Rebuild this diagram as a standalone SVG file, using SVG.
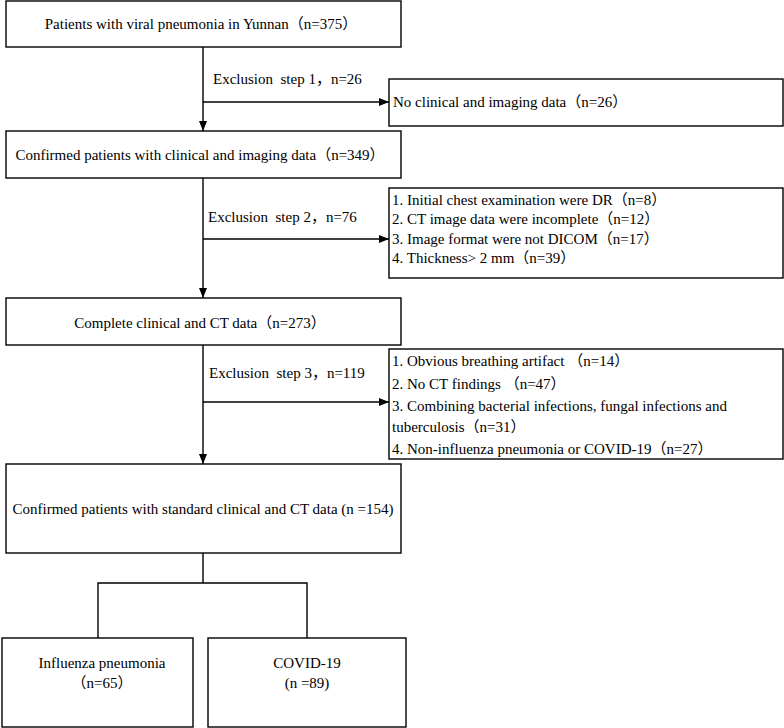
<svg xmlns="http://www.w3.org/2000/svg" width="784" height="728" viewBox="0 0 784 728">
<defs>
<marker id="ah" markerWidth="10" markerHeight="8" refX="10" refY="4" orient="auto" markerUnits="userSpaceOnUse">
<path d="M0,0 L10,4 L0,8 Z" fill="#000"/>
</marker>
<style>
rect{fill:#fff;stroke:#000;stroke-width:1.4}
.c line,.c polyline{stroke:#000;stroke-width:1.4;fill:none}
text{font-family:"Liberation Serif","Times New Roman","Noto Sans CJK SC",serif;font-size:15px;fill:#000;white-space:pre}
.m{text-anchor:middle}
</style>
</defs>
<rect width="784" height="728" style="fill:#fff;stroke:none"/>
<g id="n1"><rect x="6" y="1" width="395" height="46"/><text class="m" x="201" y="29">Patients with viral pneumonia in Yunnan（n=375）</text></g>
<g id="n2"><rect x="389" y="79" width="394" height="47"/><text x="393" y="107">No clinical and imaging data（n=26）</text></g>
<g id="n3"><rect x="6" y="131" width="395" height="47"/><text class="m" x="200" y="160">Confirmed patients with clinical and imaging data（n=349）</text></g>
<g id="n4"><rect x="389" y="188" width="394" height="90"/>
<text x="392" y="205">1. Initial chest examination were DR（n=8）</text>
<text x="392" y="224">2. CT image data were incomplete（n=12）</text>
<text x="392" y="244">3. Image format were not DICOM（n=17）</text>
<text x="392" y="263">4. Thickness&gt; 2 mm（n=39）</text></g>
<g id="n5"><rect x="6" y="298" width="395" height="47"/><text class="m" x="200" y="328">Complete clinical and CT data（n=273）</text></g>
<g id="n6"><rect x="389" y="349" width="394" height="110"/>
<text x="392" y="366">1. Obvious breathing artifact （n=14）</text>
<text x="392" y="389">2. No CT findings （n=47）</text>
<text x="392" y="411">3. Combining bacterial infections, fungal infections and</text>
<text x="392" y="432">tuberculosis（n=31）</text>
<text x="392" y="454">4. Non-influenza pneumonia or COVID-19（n=27）</text></g>
<g id="n7"><rect x="6" y="464" width="395" height="89"/><text class="m" x="203" y="514">Confirmed patients with standard clinical and CT data (n =154)</text></g>
<g id="n8"><rect x="2" y="638" width="191" height="89"/><text class="m" x="102" y="668">Influenza pneumonia</text><text class="m" x="102" y="688">（n=65）</text></g>
<g id="n9"><rect x="208" y="638" width="198" height="89"/><text class="m" x="307" y="668">COVID-19</text><text class="m" x="307" y="688">(n =89)</text></g>
<g id="labels">
<text x="213" y="84">Exclusion  step 1，n=26</text>
<text x="208" y="222">Exclusion  step 2，n=76</text>
<text x="209" y="378">Exclusion  step 3，n=119</text>
</g>
<g class="c" id="connectors">
<line x1="203" y1="47" x2="203" y2="131" marker-end="url(#ah)"/>
<line x1="203" y1="102" x2="389" y2="102" marker-end="url(#ah)"/>
<line x1="203" y1="178" x2="203" y2="298" marker-end="url(#ah)"/>
<line x1="203" y1="239" x2="389" y2="239" marker-end="url(#ah)"/>
<line x1="203" y1="345" x2="203" y2="464" marker-end="url(#ah)"/>
<line x1="203" y1="402" x2="389" y2="402" marker-end="url(#ah)"/>
<line x1="203" y1="553" x2="203" y2="583"/>
<polyline points="98,638 98,583 307,583 307,638"/>
</g>
</svg>
